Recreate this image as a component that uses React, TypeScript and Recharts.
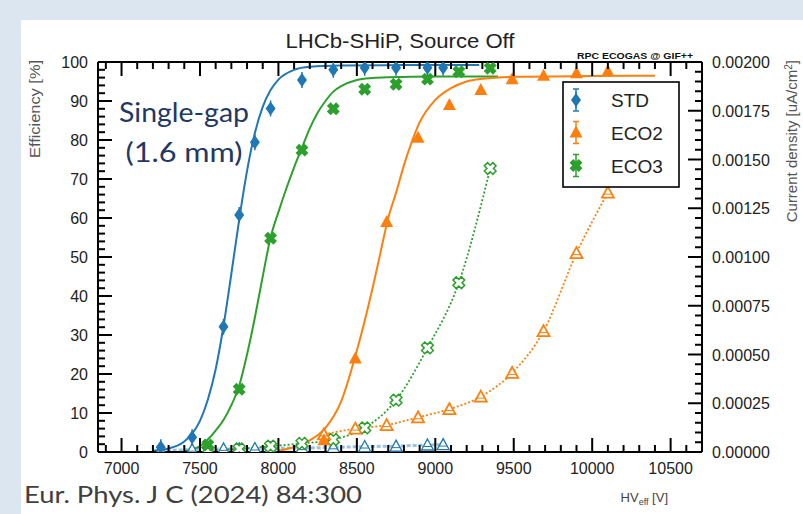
import React from 'react';
import { ComposedChart, Line, XAxis, YAxis } from 'recharts';

const BLUE = '#1f77b4';
const ORANGE = '#ff7f0e';
const GREEN = '#2ca02c';
const FONT = '"Liberation Sans", Arial, Helvetica, sans-serif';

// ---------- data ----------
// STD (efficiency %, current density uA/cm2)
const stdHV = [7250, 7450, 7650, 7750, 7850, 7950, 8150, 8350, 8550, 8750, 8950, 9050];
const stdEff = [1.2, 3.8, 32.1, 60.8, 79.4, 88.1, 95.4, 98.0, 98.5, 98.5, 98.5, 98.5];
const stdCurrent = [0.000008, 0.000012, 0.000016, 0.000016, 0.000018, 0.00002, 0.00002, 0.000024, 0.000028, 0.00003, 0.000036, 0.000038];

// ECO2
const eco2HV = [8290, 8490, 8690, 8890, 9090, 9290, 9490, 9690, 9900, 10100];
const eco2Eff = [3.0, 24.0, 59.0, 80.6, 89.0, 92.8, 95.6, 96.5, 97.1, 97.6];
const eco2Current = [0.00009, 0.00012, 0.000138, 0.000178, 0.00022, 0.000284, 0.000406, 0.00062, 0.00102, 0.00133];

// ECO3
const eco3HV = [7550, 7750, 7950, 8150, 8350, 8550, 8750, 8950, 9150, 9350];
const eco3Eff = [1.8, 16.1, 54.8, 77.4, 88.0, 93.0, 94.3, 95.6, 97.5, 98.4];
const eco3Current = [0.00001, 0.000016, 0.00003, 0.000044, 0.000064, 0.000124, 0.000266, 0.000534, 0.000868, 0.001454];

// fitted efficiency curves
const stdFitHV = [7200, 7300, 7400, 7450, 7500, 7550, 7600, 7650, 7700, 7750, 7800, 7850, 7900, 7950, 8000, 8100, 8200, 8400, 8800, 9280];
const stdFitEff = [0.3, 0.9, 2.7, 4.7, 8.0, 13.4, 21.2, 32.3, 45.7, 59.6, 72.1, 81.8, 88.5, 92.8, 95.5, 98.0, 98.8, 99.1, 99.2, 99.2];
const eco2FitHV = [8000, 8100, 8200, 8300, 8400, 8500, 8600, 8650, 8700, 8750, 8800, 8850, 8900, 9000, 9100, 9200, 9300, 9500, 10000, 10400];
const eco2FitEff = [0.3, 1.3, 3.0, 6.2, 13.0, 26.0, 42.0, 51.0, 60.0, 66.5, 73.5, 79.5, 84.5, 90.3, 93.3, 95.0, 95.7, 96.2, 96.4, 96.5];
const eco3FitHV = [7400, 7450, 7500, 7550, 7600, 7650, 7700, 7750, 7800, 7850, 7900, 7950, 8000, 8050, 8100, 8150, 8200, 8250, 8300, 8350, 8400, 8500, 8600, 8700, 9000, 9400];
const eco3FitEff = [0.2, 0.6, 1.5, 3.2, 5.5, 8.2, 12.0, 17.0, 25.0, 34.5, 45.0, 55.0, 61.5, 67.5, 73.0, 78.0, 83.0, 87.0, 90.0, 92.4, 93.8, 95.4, 95.9, 96.1, 96.3, 96.3];

// axes
const xDomain = [6850, 10700];
const xMajorTicks = [7000, 7500, 8000, 8500, 9000, 9500, 10000, 10500];
const effMajorTicks = [0, 10, 20, 30, 40, 50, 60, 70, 80, 90, 100];
const curMajorTicks = [0, 0.00025, 0.0005, 0.00075, 0.001, 0.00125, 0.0015, 0.00175, 0.002];
const curTickLabels = ['0.00000', '0.00025', '0.00050', '0.00075', '0.00100', '0.00125', '0.00150', '0.00175', '0.00200'];
const legendNames = ['STD', 'ECO2', 'ECO3'];

// minor tick positions (axis decoration only)
const xTicks: number[] = [];
for (let v = 6900; v <= 10700; v += 100) xTicks.push(v);
const effTicks: number[] = [];
for (let v = 0; v <= 100; v += 2) effTicks.push(v);
const curTicks: number[] = [];
for (let i = 0; i <= 40; i++) curTicks.push(Number((i * 0.00005).toFixed(6)));

const zip = (xs: number[], ys: number[]) => xs.map((v, i) => ({ v, y: ys[i] }));

const MAJ = 14;
const MIN = 7;

const BottomTick = (p: any) => {
  const { x, y, payload } = p;
  const v = payload.value;
  const major = xMajorTicks.includes(v);
  return (
    <g>
      <line x1={x} y1={y} x2={x} y2={y - (major ? MAJ : MIN)} stroke="#000" strokeWidth={2} />
      {major && (
        <text x={x} y={y + 22} textAnchor="middle" fontSize={16} fill="#222" fontFamily={FONT}>
          {v}
        </text>
      )}
    </g>
  );
};
const TopTick = (p: any) => {
  const { x, y, payload } = p;
  const major = xMajorTicks.includes(payload.value);
  return <line x1={x} y1={y} x2={x} y2={y + (major ? MAJ : MIN)} stroke="#000" strokeWidth={2} />;
};
const LeftTick = (p: any) => {
  const { x, y, payload } = p;
  const v = payload.value;
  const major = effMajorTicks.includes(v);
  return (
    <g>
      <line x1={x} y1={y} x2={x + (major ? MAJ : MIN)} y2={y} stroke="#000" strokeWidth={2} />
      {major && (
        <text x={x - 10} y={y + 6} textAnchor="end" fontSize={16} fill="#222" fontFamily={FONT}>
          {v}
        </text>
      )}
    </g>
  );
};
const RightTick = (p: any) => {
  const { x, y, payload } = p;
  const v = payload.value;
  const idx = curMajorTicks.findIndex((m) => Math.abs(m - v) < 1e-8);
  const major = idx >= 0;
  return (
    <g>
      <line x1={x} y1={y} x2={x - (major ? MAJ : MIN)} y2={y} stroke="#000" strokeWidth={2} />
      {major && (
        <text x={x + 10} y={y + 6} textAnchor="start" fontSize={16} fill="#222" fontFamily={FONT}>
          {curTickLabels[idx]}
        </text>
      )}
    </g>
  );
};

// markers
const Diamond = ({ cx, cy, color = BLUE }: any) => (
  <g>
    <line x1={cx} y1={cy - 8} x2={cx} y2={cy + 8} stroke={color} strokeWidth={1.5} />
    <polygon points={`${cx},${cy - 7} ${cx + 5},${cy} ${cx},${cy + 7} ${cx - 5},${cy}`} fill={color} />
  </g>
);
const TriFilled = ({ cx, cy, color = ORANGE }: any) => (
  <polygon points={`${cx},${cy - 7} ${cx + 6.5},${cy + 5} ${cx - 6.5},${cy + 5}`} fill={color} />
);
const TriOpen = ({ cx, cy, color = ORANGE, w = 1.8 }: any) => (
  <g>
    <polygon points={`${cx},${cy - 6} ${cx + 6},${cy + 5} ${cx - 6},${cy + 5}`} fill="#fff" stroke={color} strokeWidth={w} />
    <line x1={cx - 4} y1={cy + 1.5} x2={cx + 4} y2={cy + 1.5} stroke={color} strokeWidth={1} />
  </g>
);
const crossPts = (a: number, L: number) =>
  [[-a, -L], [a, -L], [a, -a], [L, -a], [L, a], [a, a], [a, L], [-a, L], [-a, a], [-L, a], [-L, -a], [-a, -a]]
    .map((q) => q.join(','))
    .join(' ');
const CrossFilled = ({ cx, cy, color = GREEN }: any) => (
  <polygon points={crossPts(2.6, 6.5)} fill={color} transform={`translate(${cx},${cy}) rotate(45)`} />
);
const CrossOpen = ({ cx, cy, color = GREEN }: any) => (
  <polygon points={crossPts(2.3, 6)} fill="#fff" stroke={color} strokeWidth={1.5} transform={`translate(${cx},${cy}) rotate(45)`} />
);

const dotOf = (Shape: any, extra: any = {}) => (p: any) =>
  p.cx == null || p.cy == null ? <g key={`k${p.index}`} /> : <Shape key={`k${p.index}`} cx={p.cx} cy={p.cy} {...extra} />;

const common = { xAxisId: 'b', isAnimationActive: false, activeDot: false, legendType: 'none' as const };

export default function App() {
  const legendY = [100, 132.5, 165.5];
  return (
    <div style={{ position: 'absolute', left: 0, top: 0, width: 803, height: 514, background: '#dbe6f1', overflow: 'hidden' }}>
      <div style={{ position: 'absolute', left: 21, top: 20, right: 0, bottom: 0, background: '#ffffff' }} />
      <div style={{ position: 'absolute', left: 0, top: 0 }}>
        <ComposedChart width={803} height={514} margin={{ top: 52, right: 41, bottom: 32, left: 58 }}>
          <XAxis
            xAxisId="b"
            orientation="bottom"
            type="number"
            dataKey="v"
            domain={xDomain}
            allowDataOverflow
            ticks={xTicks}
            interval={0}
            tickSize={0}
            tickMargin={0}
            tickLine={false}
            tick={(p: any) => <BottomTick {...p} />}
            axisLine={{ stroke: '#000', strokeWidth: 2 }}
            height={30}
          />
          <XAxis
            xAxisId="t"
            orientation="top"
            type="number"
            dataKey="v"
            domain={xDomain}
            allowDataOverflow
            ticks={xTicks}
            interval={0}
            tickSize={0}
            tickMargin={0}
            tickLine={false}
            tick={(p: any) => <TopTick {...p} />}
            axisLine={{ stroke: '#000', strokeWidth: 2 }}
            height={10}
          />
          <YAxis
            yAxisId="eff"
            orientation="left"
            type="number"
            domain={[0, 100]}
            allowDataOverflow
            ticks={effTicks}
            interval={0}
            tickSize={0}
            tickMargin={0}
            tickLine={false}
            tick={(p: any) => <LeftTick {...p} />}
            axisLine={{ stroke: '#000', strokeWidth: 2 }}
            width={40}
          />
          <YAxis
            yAxisId="cur"
            orientation="right"
            type="number"
            domain={[0, 0.002]}
            allowDataOverflow
            ticks={curTicks}
            interval={0}
            tickSize={0}
            tickMargin={0}
            tickLine={false}
            tick={(p: any) => <RightTick {...p} />}
            axisLine={{ stroke: '#000', strokeWidth: 2 }}
            width={60}
          />

          {/* current density curves */}
          <Line {...common} yAxisId="cur" data={zip(stdHV, stdCurrent)} dataKey="y" stroke={BLUE} strokeOpacity={0.45} strokeWidth={3} strokeDasharray="4 2" dot={dotOf(TriOpen, { color: BLUE, w: 1.3 })} />
          <Line {...common} yAxisId="cur" data={zip(eco3HV, eco3Current)} dataKey="y" type="monotone" stroke={GREEN} strokeWidth={1.8} strokeDasharray="2 2" dot={dotOf(CrossOpen)} />
          <Line {...common} yAxisId="cur" data={zip(eco2HV, eco2Current)} dataKey="y" type="monotone" stroke={ORANGE} strokeWidth={1.8} strokeDasharray="2 2" dot={dotOf(TriOpen)} />

          {/* fitted efficiency curves */}
          <Line {...common} yAxisId="eff" data={zip(stdFitHV, stdFitEff)} dataKey="y" type="monotone" stroke={BLUE} strokeWidth={2} dot={false} />
          <Line {...common} yAxisId="eff" data={zip(eco3FitHV, eco3FitEff)} dataKey="y" type="monotone" stroke={GREEN} strokeWidth={2} dot={false} />
          <Line {...common} yAxisId="eff" data={zip(eco2FitHV, eco2FitEff)} dataKey="y" type="monotone" stroke={ORANGE} strokeWidth={2} dot={false} />

          {/* efficiency points */}
          <Line {...common} yAxisId="eff" data={zip(stdHV, stdEff)} dataKey="y" stroke="none" dot={dotOf(Diamond)} />
          <Line {...common} yAxisId="eff" data={zip(eco3HV, eco3Eff)} dataKey="y" stroke="none" dot={dotOf(CrossFilled)} />
          <Line {...common} yAxisId="eff" data={zip(eco2HV, eco2Eff)} dataKey="y" stroke="none" dot={dotOf(TriFilled)} />
        </ComposedChart>
      </div>

      <svg width={803} height={514} style={{ position: 'absolute', left: 0, top: 0, pointerEvents: 'none' }}>
        <text x={400} y={48} textAnchor="middle" fontSize={20} fill="#222" fontFamily={FONT} textLength={229} lengthAdjust="spacingAndGlyphs">
          LHCb-SHiP, Source Off
        </text>
        <text x={577} y={59} fontSize={9} fontWeight="bold" fill="#111" fontFamily={FONT} textLength={116} lengthAdjust="spacingAndGlyphs">
          RPC ECOGAS @ GIF++
        </text>
        <text transform="translate(40,60) rotate(-90)" textAnchor="end" fontSize={15} fill="#555" fontFamily={FONT} textLength={98} lengthAdjust="spacingAndGlyphs">
          Efficiency [%]
        </text>
        <text transform="translate(797,60) rotate(-90)" textAnchor="end" fontSize={15} fill="#555" fontFamily={FONT}>
          Current density [uA/cm<tspan dy={-5} fontSize={10}>2</tspan><tspan dy={5}>]</tspan>
        </text>
        <text x={668} y={502} textAnchor="end" fontSize={13} fill="#444" fontFamily={FONT}>
          HV<tspan dy={3} fontSize={9}>eff</tspan><tspan dy={-3}> [V]</tspan>
        </text>

        <text x={184} y={122} textAnchor="middle" fontSize={27} fill="#1f3864" fontFamily="Lato, 'Open Sans', sans-serif" textLength={130} lengthAdjust="spacingAndGlyphs">
          Single-gap
        </text>
        <text x={184} y={162} textAnchor="middle" fontSize={27} fill="#1f3864" fontFamily="Lato, 'Open Sans', sans-serif" textLength={117} lengthAdjust="spacingAndGlyphs">
          (1.6 mm)
        </text>

        <text x={24} y={503} fontSize={24} fill="#404040" fontFamily="Lato, 'Open Sans', sans-serif" textLength={338} lengthAdjust="spacingAndGlyphs">
          Eur. Phys. J C (2024) 84:300
        </text>

        {/* legend */}
        <rect x={563} y={82} width={116} height={105} fill="#fff" stroke="#000" strokeWidth={1.6} />
        {legendNames.map((name, i) => {
          const cy = legendY[i];
          const color = [BLUE, ORANGE, GREEN][i];
          const Marker = [Diamond, TriFilled, CrossFilled][i];
          return (
            <g key={name}>
              <line x1={576} y1={cy - 11} x2={576} y2={cy + 11} stroke={color} strokeWidth={1.5} />
              <line x1={573} y1={cy - 11} x2={579} y2={cy - 11} stroke={color} strokeWidth={1.5} />
              <line x1={573} y1={cy + 11} x2={579} y2={cy + 11} stroke={color} strokeWidth={1.5} />
              <Marker cx={576} cy={cy} color={color} />
              <text x={611} y={cy + 7} fontSize={19} fill="#222" fontFamily={FONT}>
                {name}
              </text>
            </g>
          );
        })}
      </svg>
    </div>
  );
}
